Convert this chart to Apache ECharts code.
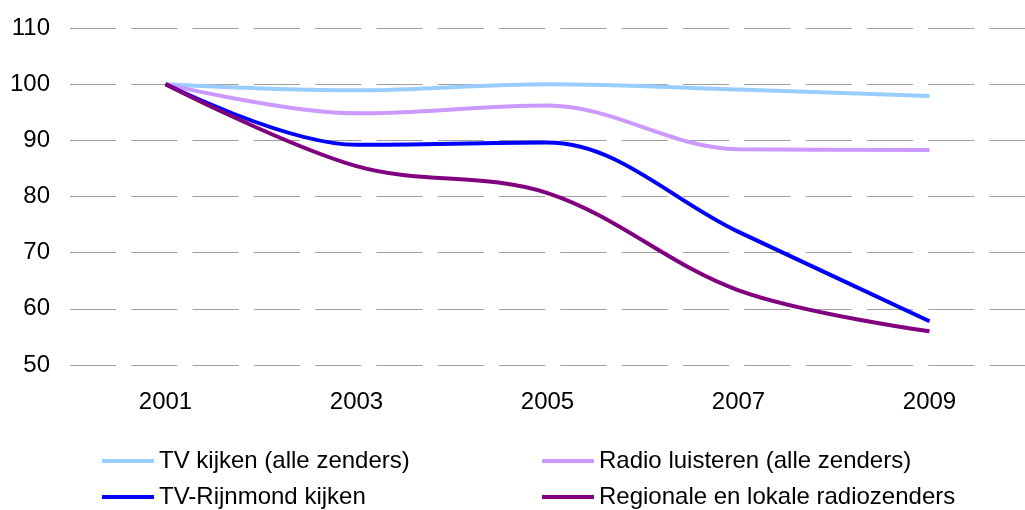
<!DOCTYPE html>
<html>
<head>
<meta charset="utf-8">
<script src="https://cdn.jsdelivr.net/npm/echarts@6/dist/echarts.min.js"></script>
<style>
  html, body { margin: 0; padding: 0; background: #fff; }
  #main { width: 1025px; height: 510px; }
</style>
</head>
<body>
<div id="main"></div>
<script>
// jaren (x-as)
const years = ['2001', '2003', '2005', '2007', '2009']
// index 2001 = 100
const tvKijken = [100, 98.9, 100, 99.05, 97.9]
const radioLuisteren = [100, 94.8, 96.2, 88.4, 88.3]
const tvRijnmond = [100, 89.2, 89.6, 73.7, 57.8]
const regionaleRadio = [100, 85.4, 80.6, 63.3, 56.0]

const names = [
  'TV kijken (alle zenders)',
  'Radio luisteren (alle zenders)',
  'TV-Rijnmond kijken',
  'Regionale en lokale radiozenders'
]
const colors = ['#99ccff', '#cc99ff', '#0000ff', '#800080']
const font = 'Liberation Sans'

const chart = echarts.init(document.getElementById('main'))

function makeSeries(name, data, color) {
  return {
    name: name,
    type: 'line',
    data: data,
    smooth: 0.35,
    symbol: 'none',
    lineStyle: { color: color, width: 4 },
    itemStyle: { color: color }
  }
}

// elk legenda-item apart neergezet (2 kolommen)
function makeLegend(name, left, top) {
  return {
    data: [name],
    left: left,
    top: top,
    padding: 0,
    icon: 'rect',
    itemWidth: 52,
    itemHeight: 4,
    textStyle: { fontFamily: font, fontSize: 24, color: '#000' }
  }
}

const option = {
  animation: false,
  grid: { left: 70, right: -17, top: 28, bottom: 145 },
  legend: [
    makeLegend(names[0], 102, 449),
    makeLegend(names[1], 542, 449),
    makeLegend(names[2], 102, 485),
    makeLegend(names[3], 542, 485)
  ],
  xAxis: {
    type: 'category',
    data: years,
    boundaryGap: true,
    axisLine: { show: false },
    axisTick: { show: false },
    axisLabel: { margin: 25, fontFamily: font, fontSize: 24, color: '#000' }
  },
  yAxis: {
    type: 'value',
    min: 50,
    max: 110,
    interval: 10,
    axisLine: { show: false },
    axisTick: { show: false },
    axisLabel: { margin: 20, fontFamily: font, fontSize: 24, color: '#000' },
    splitLine: {
      lineStyle: { color: '#a0a0a0', width: 1, type: [46, 15.3] }
    }
  },
  series: [
    makeSeries(names[0], tvKijken, colors[0]),
    makeSeries(names[1], radioLuisteren, colors[1]),
    makeSeries(names[2], tvRijnmond, colors[2]),
    makeSeries(names[3], regionaleRadio, colors[3])
  ]
}

chart.setOption(option)
</script>
</body>
</html>
